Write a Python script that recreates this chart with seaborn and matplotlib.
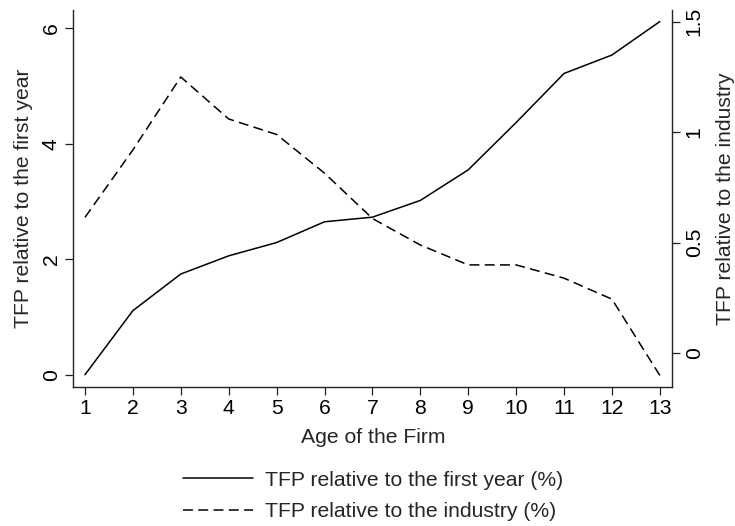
import matplotlib
matplotlib.use("Agg")
import matplotlib.pyplot as plt
import seaborn as sns
import pandas as pd

age = [1, 2, 3, 4, 5, 6, 7, 8, 9, 10, 11, 12, 13]
tfp_first_year = [0.0, 1.11, 1.745, 2.06, 2.29, 2.65, 2.73, 3.02, 3.55, 4.37, 5.22, 5.54, 6.12]
tfp_industry = [0.615, 0.92, 1.25, 1.06, 0.99, 0.815, 0.61, 0.49, 0.40, 0.40, 0.34, 0.245, -0.10]

left_ticks = [0, 2, 4, 6]
right_ticks = [0, 0.5, 1, 1.5]
right_tick_labels = ["0", "0.5", "1", "1.5"]

FS = 15.2

sns.set_style("ticks")
plt.rcParams['font.family'] = ['Liberation Sans', 'DejaVu Sans']
plt.rcParams['font.size'] = FS

df = pd.DataFrame({"age": age, "first": tfp_first_year, "industry": tfp_industry})

fig = plt.figure(figsize=(7.35, 5.26), dpi=100)
ax = fig.add_axes([0.0997, 0.2648, 0.815, 0.7162])
ax2 = ax.twinx()

sns.lineplot(data=df, x="age", y="first", ax=ax, color="black", linewidth=1.1,
             label="TFP relative to the first year (%)", legend=False)
sns.lineplot(data=df, x="age", y="industry", ax=ax2, color="black", linewidth=1.1,
             label="TFP relative to the industry (%)", legend=False)
ax2.lines[0].set_dashes((6.5, 3.5))

ax.set_xlim(0.756, 13.26)
ax.set_ylim(-0.208, 6.32)
ax2.set_ylim(-0.151, 1.553)

ax.set_xticks(age)
ax.set_xticklabels([str(a) for a in age])
ax.set_yticks(left_ticks)
ax.set_yticklabels([str(t) for t in left_ticks], rotation=90, va="center")
ax2.set_yticks(right_ticks)
ax2.set_yticklabels(right_tick_labels, rotation=90, va="center")

for a in (ax, ax2):
    a.tick_params(length=6, width=0.9, colors="#222222", labelsize=FS, labelcolor="black", pad=3)
    a.spines["top"].set_visible(False)
    for s in ("left", "right", "bottom"):
        a.spines[s].set_linewidth(1.0)
        a.spines[s].set_color("#222222")
ax.spines["right"].set_visible(False)
ax2.spines["left"].set_visible(False)
ax2.spines["bottom"].set_visible(False)

ax.set_xlabel("Age of the Firm", fontsize=FS, labelpad=7)
ax.set_ylabel("TFP relative to the first year", fontsize=FS, labelpad=6)
ax2.set_ylabel("TFP relative to the industry", fontsize=FS, labelpad=9)

handles = ax.lines[:1] + ax2.lines[:1]
labels = ["TFP relative to the first year (%)", "TFP relative to the industry (%)"]
fig.legend(handles, labels, loc="center", bbox_to_anchor=(0.508, 0.057), frameon=False,
           fontsize=FS, handlelength=3.3, handletextpad=0.6, labelspacing=0.6)

fig.savefig("out.png", dpi=100)
